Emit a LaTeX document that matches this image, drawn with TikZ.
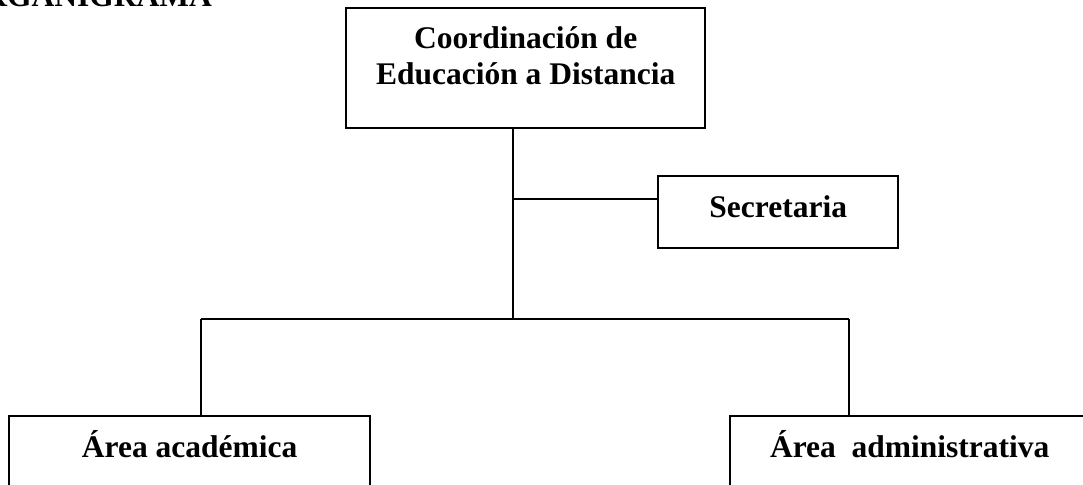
\documentclass[tikz,border=0pt]{standalone}
\usepackage{fontspec}
\setmainfont{Liberation Serif}
\usepackage{tikz}
\usetikzlibrary{positioning, calc}

\begin{document}
\begin{tikzpicture}[x=0.5pt,y=-0.5pt,line width=1.2pt,font=\fontsize{15.75}{18}\selectfont\bfseries]
	\tikzset{box/.style={draw, rectangle, anchor=north west, inner sep=0pt, align=center}}
	\useasboundingbox (0,0) rectangle (1083,484);
	\clip (0,0) rectangle (1083,484);
	\node[anchor=base east, inner sep=0pt] (title) at (213,6) {ORGANIGRAMA};
	\node[box, minimum width=179.5pt, minimum height=60pt, text height=30pt, text depth=14pt] (coord) at (345,7) {Coordinación de\\Educación a Distancia};
	\node[box, minimum width=120pt, minimum height=36pt, text height=11pt, text depth=6pt] (secr) at (657,175) {Secretaria};
	\node[box, minimum width=180.5pt, minimum height=41pt, text height=11pt, text depth=11pt] (acad) at (8,415) {Área académica};
	\node[box, minimum width=179.5pt, minimum height=41pt, text height=11pt, text depth=11pt] (admin) at (729,415) {Área\ \ administrativa};
	\coordinate (tap) at (513,199);
	\coordinate (fork) at (513,319);
	\coordinate (ljoin) at (201,319);
	\coordinate (rjoin) at (849,319);
	\draw (coord.south -| fork) -- (fork);
	\draw (tap) -- (tap -| secr.west);
	\draw (ljoin) -- (rjoin);
	\draw (ljoin) -- (ljoin |- acad.north);
	\draw (rjoin) -- (rjoin |- admin.north);
\end{tikzpicture}
\end{document}
